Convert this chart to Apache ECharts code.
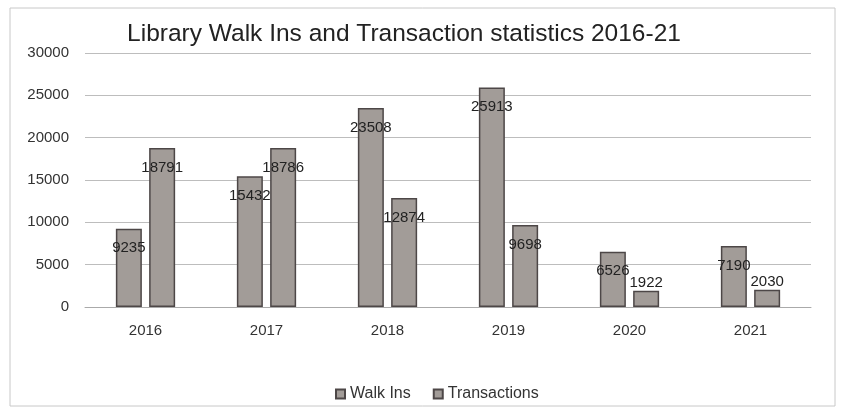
<!DOCTYPE html>
<html>
<head>
<meta charset="utf-8">
<script src="https://cdn.jsdelivr.net/npm/echarts@6/dist/echarts.min.js"></script>
<style>
  html, body { margin: 0; padding: 0; background: #fff; }
  #main { width: 853px; height: 416px; }
</style>
</head>
<body>
<div id="main"></div>
<script>
const years = ['2016', '2017', '2018', '2019', '2020', '2021'];
const walkIns = [9235, 15432, 23508, 25913, 6526, 7190];
const transactions = [18791, 18786, 12874, 9698, 1922, 2030];

const barFill = '#a29c98';
const barEdge = '#4d4747';
const font = 'Liberation Sans';

// small bars get their label above, like the Excel original
function withLabels(values) {
  return values.map(v => ({
    value: v,
    label: v < 3000 ? { position: 'top', distance: 0 } : {}
  }));
}

const chart = echarts.init(document.getElementById('main'));
chart.setOption({
  animation: false,
  backgroundColor: '#fff',
  title: {
    text: 'Library Walk Ins and Transaction statistics 2016-21',
    left: 399,
    textAlign: 'center',
    top: 17,
    textStyle: {
      fontFamily: font,
      fontWeight: 'normal',
      fontSize: 24.5,
      color: '#222'
    }
  },
  legend: {
    top: 381,
    left: 330,
    itemWidth: 9,
    itemHeight: 9,
    itemGap: 22,
    icon: 'rect',
    selectedMode: false,
    textStyle: { fontFamily: font, fontSize: 16, color: '#333' },
    data: ['Walk Ins', 'Transactions']
  },
  grid: { left: 85, right: 42, top: 53, bottom: 109 },
  xAxis: {
    type: 'category',
    data: years,
    axisTick: { show: false },
    axisLine: { lineStyle: { color: '#aaa' } },
    axisLabel: { fontFamily: font, fontSize: 15, color: '#333', margin: 16 }
  },
  yAxis: {
    type: 'value',
    min: 0,
    max: 30000,
    interval: 5000,
    axisLine: { show: false },
    axisTick: { show: false },
    splitLine: { lineStyle: { color: '#bdbdbd' } },
    axisLabel: {
      fontFamily: font,
      fontSize: 15,
      color: '#333',
      margin: 16,
      formatter: v => String(v)
    }
  },
  graphic: [{
    type: 'rect',
    shape: { x: 10, y: 8, width: 825, height: 398 },
    style: { fill: 'none', stroke: '#c8c8c8', lineWidth: 1 },
    silent: true
  }],
  series: [
    {
      name: 'Walk Ins',
      type: 'bar',
      data: withLabels(walkIns),
      barWidth: 26,
      barGap: '28%',
      itemStyle: { color: barFill, borderColor: barEdge, borderWidth: 1.5 },
      label: {
        show: true,
        position: 'insideTop',
        distance: 12,
        fontFamily: font,
        fontSize: 15,
        color: '#222'
      }
    },
    {
      name: 'Transactions',
      type: 'bar',
      data: withLabels(transactions),
      barWidth: 26,
      itemStyle: { color: barFill, borderColor: barEdge, borderWidth: 1.5 },
      label: {
        show: true,
        position: 'insideTop',
        distance: 12,
        fontFamily: font,
        fontSize: 15,
        color: '#222'
      }
    }
  ]
});
</script>
</body>
</html>
